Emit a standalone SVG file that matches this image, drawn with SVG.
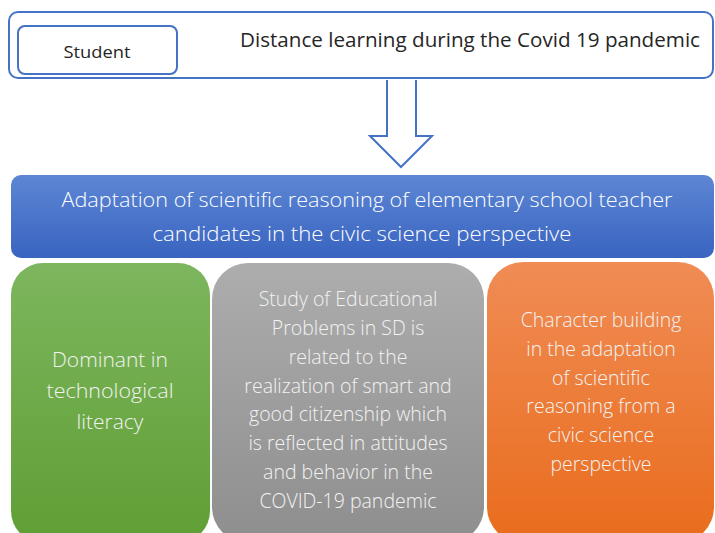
<svg xmlns="http://www.w3.org/2000/svg" width="715" height="533" viewBox="0 0 715 533">
  <defs>
    <linearGradient id="gBlue" x1="0" y1="0" x2="0" y2="1">
      <stop offset="0" stop-color="#5d86d4"/>
      <stop offset="1" stop-color="#3964c0"/>
    </linearGradient>
    <linearGradient id="gGreen" x1="0" y1="0" x2="0" y2="1">
      <stop offset="0" stop-color="#7db65e"/>
      <stop offset="1" stop-color="#5f9f34"/>
    </linearGradient>
    <linearGradient id="gGray" x1="0" y1="0" x2="0" y2="1">
      <stop offset="0" stop-color="#adadad"/>
      <stop offset="1" stop-color="#8e8e8e"/>
    </linearGradient>
    <linearGradient id="gOrange" x1="0" y1="0" x2="0" y2="1">
      <stop offset="0" stop-color="#f08c55"/>
      <stop offset="1" stop-color="#e96c1c"/>
    </linearGradient>
  </defs>
  <style>
    text { font-family: "Open Sans", "Noto Sans", "Liberation Sans", sans-serif; }
    .outline { fill: #ffffff; stroke: #4472c4; stroke-width: 2; }
    .dark { fill: #262626; }
    .light { fill: #ffffff; font-weight: 300; }
    .soft { fill: #f2f2f2; font-weight: 300; }
  </style>

  <rect width="715" height="533" fill="#ffffff"/>

  <!-- connector: hollow block arrow -->
  <g id="connectors">
    <path class="outline" d="M387,80 L387,136 L370,136 L401,167 L432,136 L416,136 L416,80"/>
  </g>

  <g id="context">
    <rect class="outline" x="9" y="12" width="704" height="66" rx="9"/>
    <text class="dark" x="240" y="47" font-size="20" textLength="460" lengthAdjust="spacingAndGlyphs">Distance learning during the Covid 19 pandemic</text>
  </g>

  <g id="student">
    <rect class="outline" x="18" y="26" width="159" height="48" rx="7"/>
    <text class="dark" x="97" y="58" font-size="16" text-anchor="middle" textLength="67" lengthAdjust="spacingAndGlyphs">Student</text>
  </g>

  <g id="adaptation">
    <rect x="11" y="175" width="703" height="83" rx="10" fill="url(#gBlue)"/>
    <text class="light" x="367" y="207" font-size="20.5" text-anchor="middle" textLength="611" lengthAdjust="spacingAndGlyphs">Adaptation of scientific reasoning of elementary school teacher</text>
    <text class="light" x="362" y="241" font-size="20.5" text-anchor="middle" textLength="419" lengthAdjust="spacingAndGlyphs">candidates in the civic science perspective</text>
  </g>

  <g id="literacy">
    <rect x="11" y="263" width="199" height="280" rx="32" fill="url(#gGreen)"/>
    <g class="soft" font-size="21" text-anchor="middle">
      <text x="110" y="367">Dominant in</text>
      <text x="110" y="398" textLength="127" lengthAdjust="spacingAndGlyphs">technological</text>
      <text x="110" y="429">literacy</text>
    </g>
  </g>

  <g id="citizenship">
    <rect x="212" y="263" width="272" height="280" rx="36" fill="url(#gGray)"/>
    <g class="soft" font-size="19.5" text-anchor="middle">
      <text x="348" y="306">Study of Educational</text>
      <text x="348" y="335">Problems in SD is</text>
      <text x="348" y="364">related to the</text>
      <text x="348" y="393">realization of smart and</text>
      <text x="348" y="421">good citizenship which</text>
      <text x="348" y="450">is reflected in attitudes</text>
      <text x="348" y="479">and behavior in the</text>
      <text x="348" y="508">COVID-19 pandemic</text>
    </g>
  </g>

  <g id="character">
    <rect x="487" y="262" width="227" height="281" rx="36" fill="url(#gOrange)"/>
    <g class="soft" font-size="19.5" text-anchor="middle">
      <text x="601" y="327">Character building</text>
      <text x="601" y="356">in the adaptation</text>
      <text x="601" y="385">of scientific</text>
      <text x="601" y="413">reasoning from a</text>
      <text x="601" y="442">civic science</text>
      <text x="601" y="471">perspective</text>
    </g>
  </g>
</svg>
